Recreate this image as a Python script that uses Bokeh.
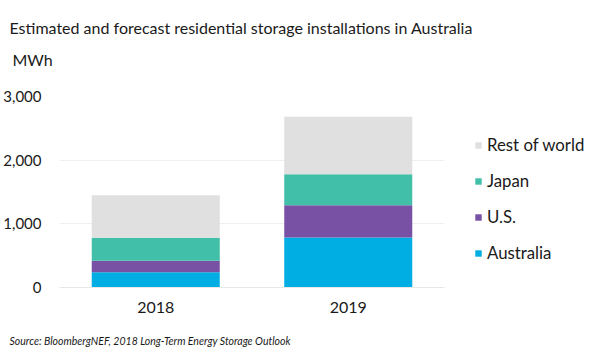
from bokeh.plotting import figure
from bokeh.models import (ColumnDataSource, FactorRange, Range1d, Legend, LegendItem,
                          Title, NumeralTickFormatter, FixedTicker)
from bokeh.embed import file_html
from bokeh.resources import INLINE

years = ["2018", "2019"]
australia = [240, 787]
us = [182, 506]
japan = [360, 485]
rest_of_world = [667, 903]
series_keys = ["australia", "us", "japan", "rest_of_world"]
series_names = ["Australia", "U.S.", "Japan", "Rest of world"]
colors = ["#00aee3", "#7851a4", "#41bfa8", "#e0e0e0"]
y_ticks = [0, 1000, 2000, 3000]

FONT = "Lato"
TXT = "#1a1a1a"

source = ColumnDataSource(dict(year=years, australia=australia, us=us,
                               japan=japan, rest_of_world=rest_of_world))

p = figure(x_range=FactorRange(*years), y_range=Range1d(0, 3000),
           frame_width=385, frame_height=191, output_backend="svg", toolbar_location=None,
           title=None, min_border_left=58, min_border_right=0,
           min_border_top=96, min_border_bottom=68)

renderers = p.vbar_stack(series_keys, x="year", width=0.665, source=source,
                         fill_color=colors, line_color=None)

items = [LegendItem(label=n, renderers=[r]) for n, r in zip(series_names, renderers)][::-1]
legend = Legend(items=items, location=(30, 24), glyph_width=8, glyph_height=8,
                label_text_font=FONT, label_text_font_size="16.8px", label_text_color=TXT,
                label_standoff=5, spacing=15, label_height=20, padding=0, margin=0,
                border_line_color=None, background_fill_alpha=0)
p.add_layout(legend, "right")

p.add_layout(Title(text="MWh", text_font=FONT, text_font_size="16px",
                   text_font_style="normal", text_color=TXT, offset=-47, standoff=0,
                   padding=dict(left=0, right=0, top=0, bottom=28)), "above")
p.add_layout(Title(text="Estimated and forecast residential storage installations in Australia",
                   text_font=FONT, text_font_size="16px", text_font_style="normal",
                   text_color=TXT, offset=-50, standoff=22), "above")

p.yaxis.ticker = FixedTicker(ticks=y_ticks)
p.yaxis.formatter = NumeralTickFormatter(format="0,0")
p.yaxis.axis_line_color = None
p.yaxis.major_tick_line_color = None
p.yaxis.minor_tick_line_color = None
p.yaxis.major_label_text_font = FONT
p.yaxis.major_label_text_font_size = "15px"
p.yaxis.major_label_text_color = TXT
p.yaxis.major_label_standoff = 12

p.xaxis.axis_line_color = "#e8e8e8"
p.xaxis.major_tick_line_color = None
p.xaxis.minor_tick_line_color = None
p.xaxis.major_label_text_font = FONT
p.xaxis.major_label_text_font_size = "16px"
p.xaxis.major_label_text_color = TXT
p.xaxis.major_label_standoff = 8

p.add_layout(Title(text="Source: BloombergNEF, 2018 Long-Term Energy Storage Outlook",
                   text_font=FONT, text_font_size="10.5px", text_font_style="italic",
                   text_color=TXT, offset=-50, standoff=20,
                   padding=dict(left=0, right=0, top=7, bottom=0)), "below")

p.xgrid.grid_line_color = None
p.ygrid.grid_line_color = "#efefef"
p.outline_line_color = None

open("out.html", "w").write(file_html(p, INLINE))
